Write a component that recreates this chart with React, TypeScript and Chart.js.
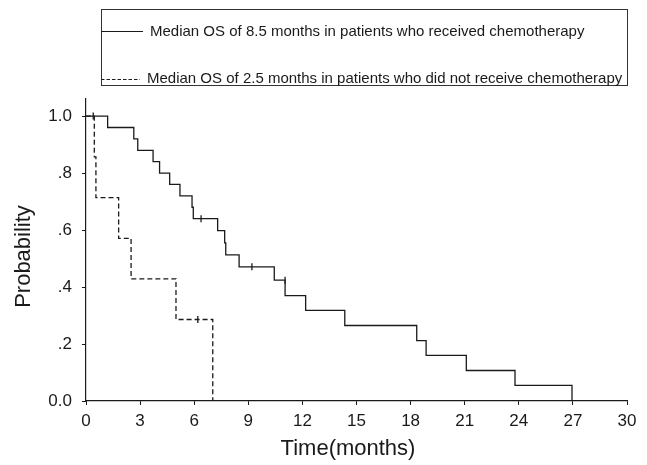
import React, { useEffect, useRef } from "react";
import { Chart, registerables } from "chart.js";

Chart.register(...registerables);

// ---- Data ----
const chemoTimes = [0, 1.2, 2.65, 2.87, 3.72, 4.08, 4.64, 5.21, 5.88, 5.95, 7.3, 7.69, 7.75, 8.49, 10.44, 11.04, 12.18, 14.35, 18.34, 18.86, 21.09, 23.79, 26.95];
const chemoSurv = [1.0, 0.96, 0.92, 0.88, 0.84, 0.8, 0.76, 0.72, 0.68, 0.64, 0.598, 0.555, 0.513, 0.471, 0.424, 0.37, 0.318, 0.265, 0.212, 0.16, 0.107, 0.055, 0.0];
const chemoCensorTimes = [6.38, 9.2, 11.04];
const chemoCensorSurv = [0.64, 0.471, 0.424];

const noChemoTimes = [0, 0.46, 0.55, 1.81, 2.5, 4.99, 7.03];
const noChemoSurv = [1.0, 0.857, 0.714, 0.571, 0.429, 0.286, 0.0];
const noChemoCensorTimes = [0.4, 6.2];
const noChemoCensorSurv = [1.0, 0.286];

const xTickValues = [0, 3, 6, 9, 12, 15, 18, 21, 24, 27, 30];
const yTickValues = [0, 0.2, 0.4, 0.6, 0.8, 1.0];
const yTickLabels = ["0.0", ".2", ".4", ".6", ".8", "1.0"];

const legendLabels = [
  "Median OS of 8.5 months in patients who received chemotherapy",
  "Median OS of 2.5 months in patients who did not receive chemotherapy",
];
const xTitle = "Time(months)";
const yTitle = "Probability";

const FONT = "'Liberation Sans', Arial, Helvetica, sans-serif";
const INK = "#1a1a1a";

const toPoints = (xs: number[], ys: number[]) => xs.map((x, i) => ({ x, y: ys[i] }));

const annotationsPlugin = {
  id: "kmExtras",
  afterDraw(chart: any) {
    const ctx = chart.ctx as CanvasRenderingContext2D;
    ctx.save();
    // Legend box
    ctx.strokeStyle = "#333";
    ctx.lineWidth = 1;
    ctx.strokeRect(101.5, 9.5, 526, 76);
    ctx.strokeStyle = INK;
    ctx.lineWidth = 1.2;
    ctx.beginPath();
    ctx.moveTo(101, 31.5);
    ctx.lineTo(143, 31.5);
    ctx.stroke();
    ctx.setLineDash([3.5, 2]);
    ctx.beginPath();
    ctx.moveTo(101, 79.5);
    ctx.lineTo(140, 79.5);
    ctx.stroke();
    ctx.setLineDash([]);
    ctx.fillStyle = INK;
    ctx.font = `15px ${FONT}`;
    ctx.textBaseline = "middle";
    ctx.textAlign = "left";
    ctx.fillText(legendLabels[0], 150, 32);
    ctx.fillText(legendLabels[1], 147, 79);

    // Axis titles
    ctx.font = `22px ${FONT}`;
    ctx.textAlign = "center";
    ctx.fillText(xTitle, 348, 449);
    ctx.save();
    ctx.translate(24, 256.5);
    ctx.rotate(-Math.PI / 2);
    ctx.fillText(yTitle, 0, 0);
    ctx.restore();
    ctx.restore();
  },
};

export default function App() {
  const canvasRef = useRef<HTMLCanvasElement | null>(null);

  useEffect(() => {
    document.body.style.margin = "0";
    const canvas = canvasRef.current;
    if (!canvas) return;

    const lineCommon = {
      showLine: true,
      stepped: true as const,
      pointRadius: 0,
      borderColor: INK,
      borderWidth: 1.3,
      fill: false,
    };
    const censorCommon = {
      showLine: false,
      pointStyle: "line" as const,
      rotation: 90,
      pointRadius: 3.5,
      borderColor: INK,
      backgroundColor: INK,
      pointBorderWidth: 1.3,
    };

    const chart = new Chart(canvas, {
      type: "scatter",
      data: {
        datasets: [
          { ...lineCommon, label: legendLabels[0], data: toPoints(chemoTimes, chemoSurv) },
          { ...lineCommon, label: legendLabels[1], borderDash: [5, 3], data: toPoints(noChemoTimes, noChemoSurv) },
          { ...censorCommon, label: "censored chemo", data: toPoints(chemoCensorTimes, chemoCensorSurv) },
          { ...censorCommon, label: "censored no chemo", data: toPoints(noChemoCensorTimes, noChemoCensorSurv) },
        ],
      },
      options: {
        animation: false,
        responsive: false,
        maintainAspectRatio: false,
        layout: { padding: { top: 99, right: 20, left: 0, bottom: 0 } },
        plugins: { legend: { display: false }, tooltip: { enabled: false } },
        scales: {
          x: {
            type: "linear",
            min: 0,
            max: 30,
            afterBuildTicks: (scale: any) => {
              scale.ticks = xTickValues.map((v) => ({ value: v }));
            },
            afterFit: (scale: any) => {
              scale.height = 64;
            },
            grid: { display: true, drawOnChartArea: false, drawTicks: true, tickLength: 4, color: INK, lineWidth: 1 },
            border: { display: true, color: INK, width: 1.2 },
            ticks: {
              color: INK,
              padding: 6,
              autoSkip: false,
              maxRotation: 0,
              font: { family: FONT, size: 17 },
              callback: (v: any) => String(v),
            },
          },
          y: {
            type: "linear",
            min: 0,
            max: 1.06,
            afterBuildTicks: (scale: any) => {
              scale.ticks = yTickValues.map((v) => ({ value: v }));
            },
            afterFit: (scale: any) => {
              scale.width = 86;
            },
            grid: { display: true, drawOnChartArea: false, drawTicks: true, tickLength: 4, color: INK, lineWidth: 1 },
            border: { display: true, color: INK, width: 1.2 },
            ticks: {
              color: INK,
              padding: 10,
              autoSkip: false,
              font: { family: FONT, size: 17 },
              callback: (v: any) => {
                const i = yTickValues.findIndex((t) => Math.abs(t - Number(v)) < 1e-6);
                return i >= 0 ? yTickLabels[i] : "";
              },
            },
          },
        },
      },
      plugins: [annotationsPlugin],
    });

    return () => chart.destroy();
  }, []);

  return (
    <div style={{ position: "relative", width: 647, height: 465, background: "#fff" }}>
      <canvas ref={canvasRef} width={647} height={465} style={{ display: "block" }} />
    </div>
  );
}
